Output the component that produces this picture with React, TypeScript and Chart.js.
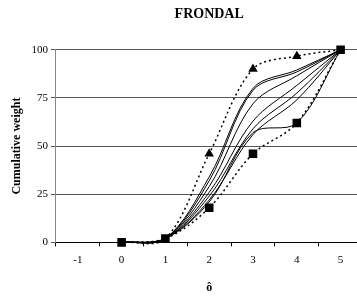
import React, { useEffect, useRef } from "react";
import { Chart, registerables } from "chart.js";

Chart.register(...registerables);

const categories = ["-1", "0", "1", "2", "3", "4", "5"];
const triangleSeries = [null, 0, 2, 46, 90, 96.7, 100];
const squareSeries = [null, 0, 2, 18, 46, 62, 100];
const solidA = [null, 0, 2, 34, 80, 89.5, 100];
const solidB = [null, 0, 2, 32, 79, 88.5, 100];
const solidC = [null, 0, 2, 29, 72, 86.5, 100];
const solidD = [null, 0, 2, 26, 63, 81.5, 100];
const solidE = [null, 0, 2, 24, 59, 77.5, 100];
const solidF = [null, 0, 2, 22, 56, 74, 100];
const solidG = [null, 0, 2, 21, 57, 62, 100];
const yTicks = [0, 25, 50, 75, 100];

const FONT = "'Liberation Serif', 'Times New Roman', serif";

export default function App() {
  const ref = useRef<HTMLCanvasElement | null>(null);
  useEffect(() => {
    if (!ref.current) return;
    const solid = (data: (number | null)[]) => ({
      data,
      borderColor: "#000",
      borderWidth: 1,
      pointRadius: 0,
      tension: 0.34,
      clip: 6,
    });
    const chart = new Chart(ref.current, {
      type: "line",
      data: {
        labels: categories,
        datasets: [
          {
            data: squareSeries,
            borderColor: "#000",
            borderWidth: 1.5,
            borderDash: [2, 3],
            pointStyle: "rect",
            pointRadius: 5,
            pointBackgroundColor: "#000",
            pointBorderColor: "#000",
            tension: 0.34,
            clip: 6,
          },
          {
            data: triangleSeries,
            borderColor: "#000",
            borderWidth: 1.5,
            borderDash: [2, 3],
            pointStyle: "triangle",
            pointRadius: [0, 0, 0, 4, 4, 4, 0],
            pointBackgroundColor: "#000",
            pointBorderColor: "#000",
            tension: 0.34,
            clip: 6,
          },
          solid(solidA),
          solid(solidB),
          solid(solidC),
          solid(solidD),
          solid(solidE),
          solid(solidF),
          solid(solidG),
        ] as any,
      },
      options: {
        animation: false,
        responsive: false,
        devicePixelRatio: 1,
        layout: { padding: { left: 6, right: 2, top: 0, bottom: 1 } },
        elements: { line: { capBezierPoints: false } },
        plugins: {
          legend: { display: false },
          tooltip: { enabled: false },
          title: {
            display: true,
            fullSize: false,
            text: "FRONDAL",
            color: "#000",
            font: { family: FONT, size: 14, weight: "bold" },
            padding: { top: 6, bottom: 27 },
          },
        },
        scales: {
          x: {
            type: "category",
            offset: true,
            grid: {
              offset: true,
              drawOnChartArea: false,
              drawTicks: true,
              tickLength: 4,
              color: "#000",
            },
            border: { color: "#000", width: 1 },
            ticks: {
              color: "#000",
              padding: 7,
              font: { family: FONT, size: 11 },
              maxRotation: 0,
              autoSkip: false,
            },
            title: {
              display: true,
              text: "ô",
              color: "#000",
              font: { family: FONT, size: 12, weight: "bold" },
              padding: { top: 7, bottom: 0 },
            },
          },
          y: {
            min: 0,
            max: 100,
            afterBuildTicks: (axis: any) => {
              axis.ticks = yTicks.map((v) => ({ value: v }));
            },
            grid: {
              color: "#555",
              lineWidth: 1,
              drawTicks: true,
              tickLength: 5,
            },
            border: { color: "#888", width: 1 },
            ticks: {
              color: "#000",
              padding: 3,
              font: { family: FONT, size: 11 },
            },
            title: {
              display: true,
              text: "Cumulative weight",
              color: "#000",
              font: { family: FONT, size: 12, weight: "bold" },
              padding: { top: 4, bottom: 4 },
            },
          },
        },
      } as any,
    });
    return () => chart.destroy();
  }, []);
  return (
    <div
      style={{
        position: "absolute",
        left: 0,
        top: 0,
        width: 357,
        height: 296,
        overflow: "hidden",
        background: "#fff",
      }}
    >
      <canvas ref={ref} width={369} height={296} style={{ width: 369, height: 296, display: "block" }} />
    </div>
  );
}
